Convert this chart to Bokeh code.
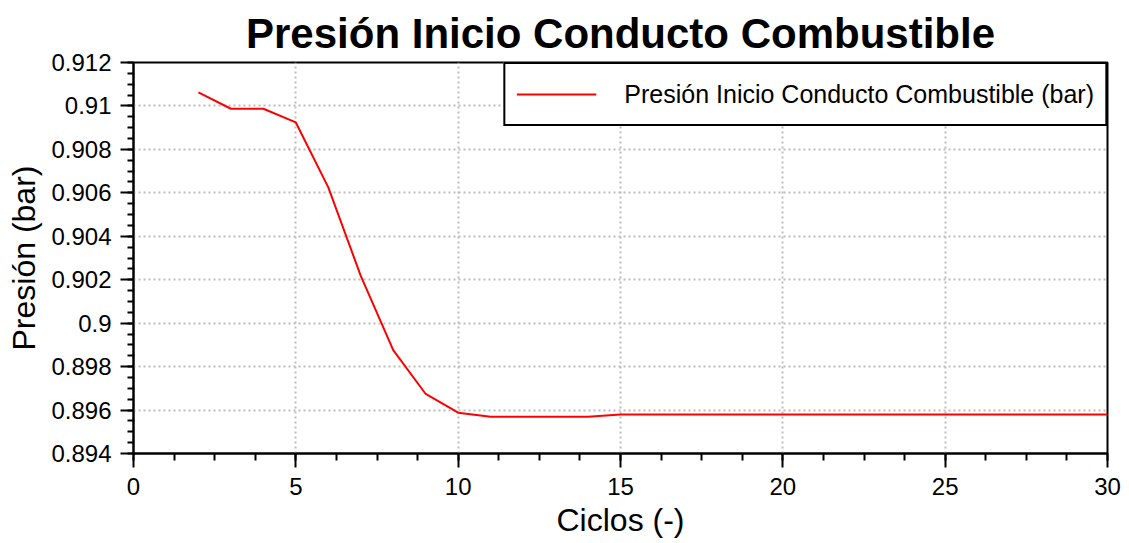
from bokeh.plotting import figure
from bokeh.models import Range1d, SingleIntervalTicker, FixedTicker, Legend, LegendItem
from bokeh.embed import file_html
from bokeh.resources import INLINE

ciclos = [2, 3, 4, 5, 6, 7, 8, 9, 10, 11, 12, 13, 14, 15, 16, 17, 18, 19, 20,
          21, 22, 23, 24, 25, 26, 27, 28, 29, 30]
presion = [0.91062, 0.90987, 0.90987, 0.90924, 0.90625, 0.90218, 0.89876,
           0.89674, 0.89588, 0.89569, 0.89569, 0.89569, 0.89569, 0.89580,
           0.89580, 0.89580, 0.89580, 0.89580, 0.89580, 0.89580, 0.89580,
           0.89580, 0.89580, 0.89580, 0.89580, 0.89580, 0.89580, 0.89580,
           0.89580]
y_ticks = [0.894, 0.896, 0.898, 0.900, 0.902, 0.904, 0.906, 0.908, 0.910, 0.912]
y_tick_labels = ["0.894", "0.896", "0.898", "0.9", "0.902", "0.904", "0.906",
                 "0.908", "0.91", "0.912"]
title_text = "Presión Inicio Conducto Combustible"
series_label = "Presión Inicio Conducto Combustible (bar)"
x_label = "Ciclos (-)"
y_label = "Presión (bar)"

FONT = "Liberation Sans"

p = figure(width=1129, height=543, output_backend="svg", toolbar_location=None,
           x_range=Range1d(0, 30), y_range=Range1d(0.894, 0.912),
           min_border_left=133, min_border_right=22, min_border_top=62,
           min_border_bottom=90)
p.title.text = title_text
p.title.text_font = FONT
p.title.text_font_size = "42px"
p.title.text_font_style = "bold"
p.title.align = "center"
p.title.text_color = "black"
p.title.offset = 0
p.title.standoff = 12

p.outline_line_color = "black"
p.outline_line_width = 2
p.outline_line_alpha = 1.0

r = p.line(ciclos, presion, line_color="#ff0000", line_width=2)

# axes
p.xaxis.ticker = SingleIntervalTicker(interval=5, num_minor_ticks=4)
p.yaxis.ticker = FixedTicker(ticks=y_ticks,
                             minor_ticks=[y_ticks[0] + i * 0.0005 for i in range(37)])
p.yaxis.major_label_overrides = {t: l for t, l in zip(y_ticks, y_tick_labels)}

for ax in (p.xaxis[0], p.yaxis[0]):
    ax.axis_line_color = "black"
    ax.axis_line_width = 2
    ax.major_tick_line_color = "black"
    ax.major_tick_line_width = 2
    ax.minor_tick_line_color = "black"
    ax.minor_tick_line_width = 2
    ax.major_tick_in = 0
    ax.minor_tick_in = 0
    ax.major_label_text_font = FONT
    ax.major_label_text_font_size = "24px"
    ax.major_label_text_color = "black"
    ax.axis_label_text_font = FONT
    ax.axis_label_text_font_size = "32px"
    ax.axis_label_text_font_style = "normal"
    ax.axis_label_text_color = "black"

p.xaxis.major_tick_out = 14
p.xaxis.minor_tick_out = 7
p.yaxis.major_tick_out = 13
p.yaxis.minor_tick_out = 6
p.xaxis.major_label_standoff = 10
p.yaxis.major_label_standoff = 9
p.xaxis.axis_label = x_label
p.yaxis.axis_label = y_label
p.xaxis.axis_label_standoff = 4
p.yaxis.axis_label_standoff = 6

p.xgrid.ticker = p.xaxis.ticker
p.ygrid.ticker = FixedTicker(ticks=y_ticks)
for g in (p.xgrid[0], p.ygrid[0]):
    g.grid_line_color = "#bdbdbd"
    g.grid_line_width = 2
    g.grid_line_dash = "2 3"

legend = Legend(items=[LegendItem(label=series_label, renderers=[r])],
                location="top_right", margin=0)
legend.border_line_color = "black"
legend.border_line_width = 2
legend.border_line_alpha = 1.0
legend.background_fill_alpha = 1.0
legend.label_text_font = FONT
legend.label_text_font_size = "25px"
legend.label_text_color = "black"
legend.glyph_width = 80
legend.glyph_height = 38
legend.label_height = 38
legend.label_standoff = 28
legend.padding = 11
p.add_layout(legend)

open("out.html", "w").write(file_html(p, INLINE))
